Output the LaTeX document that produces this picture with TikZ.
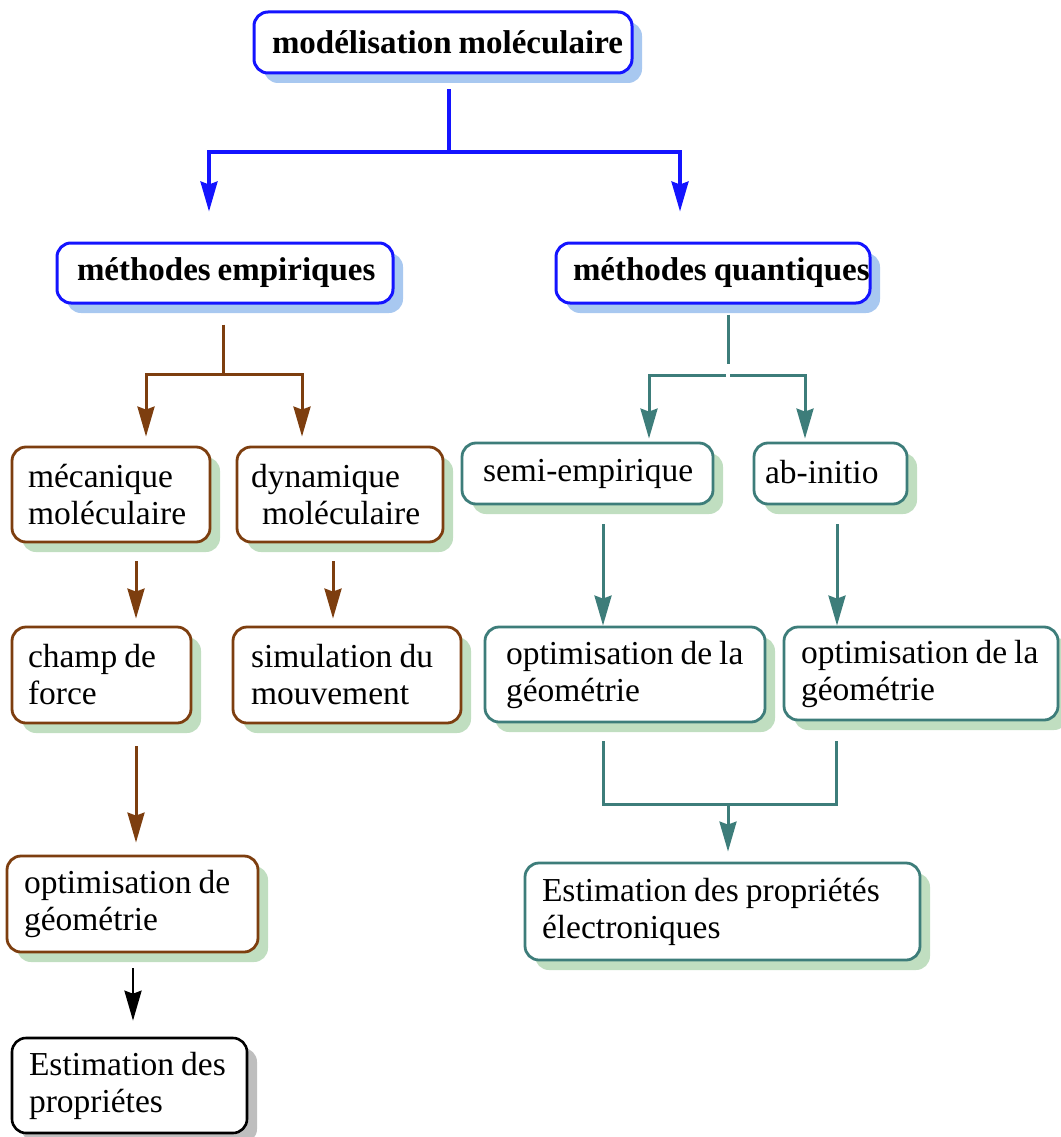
\documentclass[tikz,border=0pt]{standalone}
\usepackage{fontspec}
\setmainfont{Liberation Serif}
\usetikzlibrary{arrows.meta,shadows,calc}

\definecolor{cblue}{RGB}{20,20,255}
\definecolor{cblueshadow}{RGB}{168,200,240}
\definecolor{cbrown}{RGB}{125,62,15}
\definecolor{cteal}{RGB}{61,125,122}
\definecolor{cgreen}{RGB}{192,222,192}
\definecolor{cgray}{RGB}{190,190,190}

\begin{document}
\begin{tikzpicture}[x=1pt,y=-1pt,
  box/.style={rounded corners=14pt, fill=white, inner ysep=0pt, align=left,
              font=\fontsize{33.5}{37}\selectfont,
              execute at begin node={\spaceskip=0.21em\relax}},
  bluebox/.style={box, draw=cblue, line width=3pt, font=\fontsize{33}{36}\selectfont\bfseries,
              drop shadow={shadow xshift=10pt, shadow yshift=-10pt, fill=cblueshadow, opacity=1}},
  brownbox/.style={box, draw=cbrown, line width=2.8pt,
              drop shadow={shadow xshift=10pt, shadow yshift=-10pt, fill=cgreen, opacity=1}},
  tealbox/.style={box, draw=cteal, line width=2.8pt,
              drop shadow={shadow xshift=10pt, shadow yshift=-10pt, fill=cgreen, opacity=1}},
  blackbox/.style={box, draw=black, line width=2.6pt,
              drop shadow={shadow xshift=10pt, shadow yshift=-10pt, fill=cgray, opacity=1}},
  tip/.style={-{Stealth[length=30pt,width=17pt,inset=3pt]}},
  bluel/.style={draw=cblue, line width=3.2pt},
  brownl/.style={draw=cbrown, line width=3pt},
  teall/.style={draw=cteal, line width=3pt},
  blackl/.style={draw=black, line width=2.8pt},
]
\useasboundingbox (0,0) rectangle (1060,1137);

% blue level
\node[bluebox, inner xsep=18pt, text width=342pt, minimum height=61pt] (top) at (443,42.5) {\mbox{modélisation moléculaire}};
\node[bluebox, inner xsep=20pt, text width=296pt, minimum height=60pt] (emp) at (225,273) {\mbox{méthodes empiriques}};
\node[bluebox, inner xsep=17pt, text width=280pt, minimum height=60pt] (quant) at (713,273) {\mbox{méthodes quantiques}};

% brown column
\node[brownbox, inner xsep=16pt, text width=166pt, minimum height=95pt] (meca) at (111,494.5) {\mbox{mécanique}\\\mbox{moléculaire}};
\node[brownbox, inner xsep=14pt, text width=178pt, minimum height=95pt] (dyn) at (340,494.5) {\mbox{dynamique}\\\mbox{\hspace*{11pt}moléculaire}};
\node[brownbox, inner xsep=16pt, text width=147pt, minimum height=96pt] (champ) at (101.5,675) {\mbox{champ de}\\\mbox{force}};
\node[brownbox, inner xsep=18pt, text width=192pt, minimum height=96pt] (simu) at (347,675) {\mbox{simulation du}\\\mbox{mouvement}};
\node[brownbox, inner xsep=17pt, text width=217pt, minimum height=96pt] (optg) at (132.5,904) {\mbox{optimisation de}\\\mbox{géométrie}};
\node[blackbox, inner xsep=17pt, text width=201pt, minimum height=95pt] (estp) at (129.5,1085.5) {\mbox{Estimation des}\\\mbox{propriétes}};

% teal column
\node[tealbox, inner xsep=21pt, text width=209pt, minimum height=61pt] (semi) at (587.5,473.5) {\mbox{semi-empirique}};
\node[tealbox, inner xsep=11pt, text width=131pt, minimum height=61pt] (abi) at (830.5,473.5) {\raisebox{3pt}{\mbox{ab-initio}}};
\node[tealbox, inner xsep=21pt, text width=238pt, minimum height=95pt] (optl) at (625,674.5) {\mbox{optimisation de la}\\\mbox{géométrie}};
\node[tealbox, inner xsep=17pt, text width=240pt, minimum height=93pt] (optr) at (921,673.5) {\mbox{optimisation de la}\\\mbox{géométrie}};
\node[tealbox, inner xsep=17pt, text width=361pt, minimum height=97pt] (este) at (722.5,911.5) {\mbox{Estimation des propriétés}\\\mbox{électroniques}};

% blue connectors
\coordinate (b0) at ([xshift=6pt,yshift=-15pt]top.south);
\coordinate (bj) at (449,152);
\draw[bluel] (b0) -- (bj);
\draw[bluel,tip] (bj) -| ([xshift=-16pt,yshift=30pt]emp.north);
\draw[bluel,tip] (bj) -| ([xshift=-33pt,yshift=30pt]quant.north);

% brown connectors
\coordinate (e0) at ([xshift=-2pt,yshift=-20pt]emp.south);
\coordinate (ej) at (223,374);
\draw[brownl] (e0) -- (ej);
\draw[brownl,tip] (ej) -| ([xshift=35pt,yshift=9pt]meca.north);
\draw[brownl,tip] (ej) -| ([xshift=-38pt,yshift=9pt]dyn.north);
\draw[brownl,tip] ([xshift=25pt,yshift=-18pt]meca.south) -- ([xshift=34.5pt,yshift=7pt]champ.north);
\draw[brownl,tip] ([xshift=-7pt,yshift=-18pt]dyn.south) -- ([xshift=-14pt,yshift=7pt]simu.north);
\draw[brownl,tip] ([xshift=34.5pt,yshift=-22pt]champ.south) -- ([xshift=3.5pt,yshift=12pt]optg.north);
\draw[blackl,tip] ([xshift=0.5pt,yshift=-15pt]optg.south) -- ([xshift=3.5pt,yshift=16pt]estp.north);

% teal connectors
\coordinate (q0) at ([xshift=15pt,yshift=-10pt]quant.south);
\coordinate (q1) at (728,364);
\coordinate (qL) at (726,375);
\coordinate (qR) at (730,375);
\draw[teall] (q0) -- (q1);
\draw[teall,tip] (qL) -| ([xshift=61.5pt,yshift=3pt]semi.north);
\draw[teall,tip] (qR) -| ([xshift=-25.5pt,yshift=3pt]abi.north);
\draw[teall,tip] ([xshift=15.5pt,yshift=-19pt]semi.south) -- ([xshift=-22pt]optl.north);
\draw[teall,tip] ([xshift=6.5pt,yshift=-19pt]abi.south) -- ([xshift=-84pt]optr.north);
\coordinate (qb) at (728,804);
\draw[teall] ([xshift=-22pt,yshift=-18pt]optl.south) |- (qb) -| ([xshift=-85pt,yshift=-20pt]optr.south);
\draw[teall,tip] (qb) -- ([xshift=5.5pt,yshift=10pt]este.north);
\end{tikzpicture}
\end{document}
